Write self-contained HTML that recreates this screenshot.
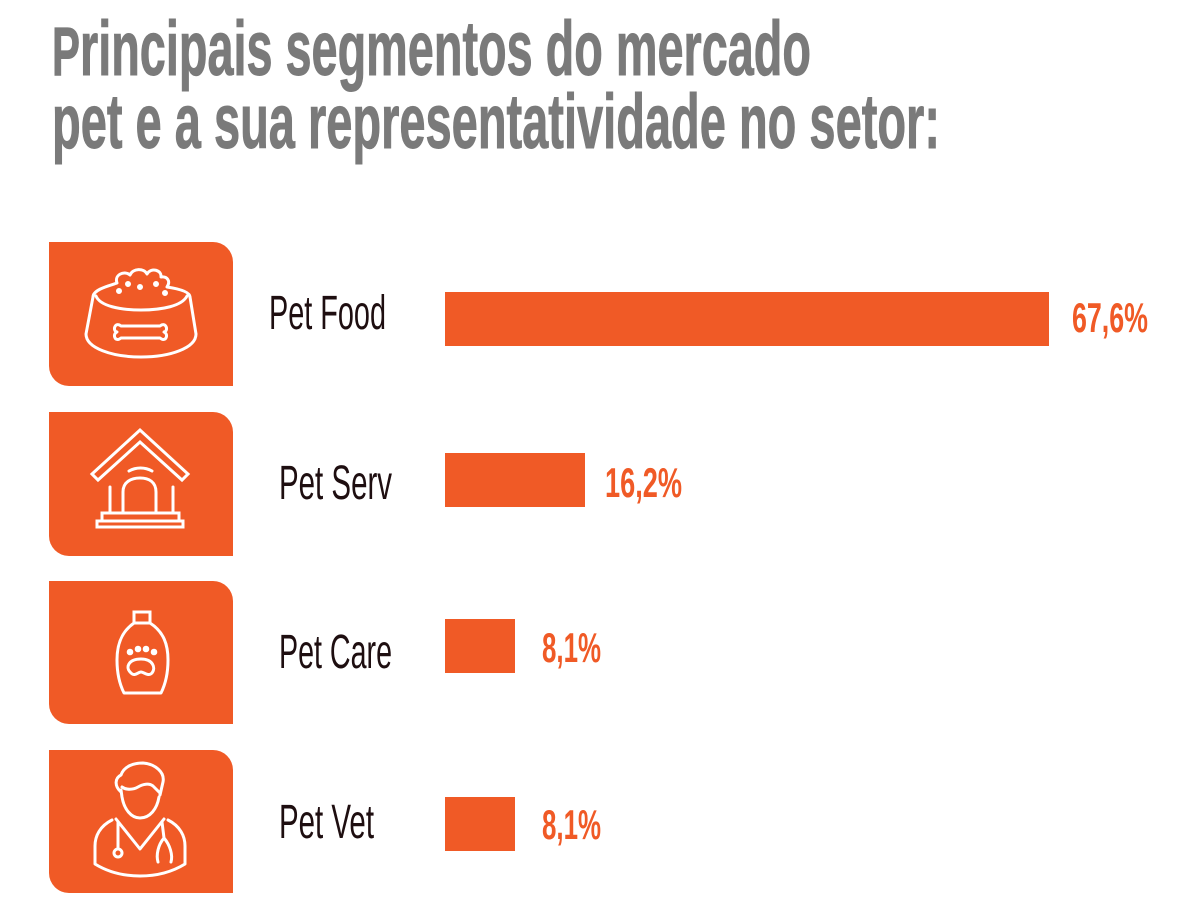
<!DOCTYPE html>
<html>
<head>
<meta charset="utf-8">
<style>
  html, body { margin: 0; padding: 0; background: #ffffff; }
  svg { display: block; }
</style>
</head>
<body>
<svg width="1200" height="920" viewBox="0 0 1200 920" xmlns="http://www.w3.org/2000/svg">
  <rect width="1200" height="920" fill="#ffffff"/>

  <!-- Title -->
  <g font-family="Liberation Sans, sans-serif" font-weight="bold" fill="#7a7a7a" stroke="#7a7a7a" stroke-width="1" font-size="77">
    <text x="52" y="75" textLength="759" lengthAdjust="spacingAndGlyphs"><tspan font-size="69">P</tspan>rincipais segmentos do mercado</text>
    <text x="52" y="148" textLength="888" lengthAdjust="spacingAndGlyphs">pet e a sua representatividade no setor:</text>
  </g>

  <!-- Icon boxes -->
  <g fill="#f05a26">
    <path d="M49,242 H213 A20,20 0 0 1 233,262 V386 H69 A20,20 0 0 1 49,366 Z"/>
    <path d="M49,412 H213 A20,20 0 0 1 233,432 V556 H69 A20,20 0 0 1 49,536 Z"/>
    <path d="M49,581 H213 A20,20 0 0 1 233,601 V724 H69 A20,20 0 0 1 49,704 Z"/>
    <path d="M49,750 H213 A20,20 0 0 1 233,770 V893 H69 A20,20 0 0 1 49,873 Z"/>
  </g>

  <!-- Icons -->
  <g fill="none" stroke="#ffffff" stroke-width="3" stroke-linecap="round" stroke-linejoin="round">
    <!-- Bowl -->
    <path d="M93,297 C93,289 112,285 117,283 C114,275 124,270 130,275 C133,268 144,268 147,274 C151,267 162,270 161,277 C167,276 171,281 167,287 C180,289 190,292 190,297"/>
    <path d="M96,296 C100,306 120,310 141,310 C162,310 182,306 187,296"/>
    <path d="M93,297 L86,334 C86,348 112,357 141,357 C170,357 196,348 196,334 L190,297"/>
    <path d="M121,326 C115,321 112,331 117,332 C112,334 115,343 121,338 L160,338 C166,343 169,334 164,332 C169,331 166,321 160,326 Z"/>
    <circle cx="119" cy="291" r="1.5" fill="#fff"/>
    <circle cx="128" cy="284" r="1.5" fill="#fff"/>
    <circle cx="140" cy="287" r="1.5" fill="#fff"/>
    <circle cx="156" cy="284" r="1.5" fill="#fff"/>
    <circle cx="165" cy="293" r="1.5" fill="#fff"/>

    <!-- House -->
    <path d="M92,474 L140,430 L188,474 L182,480 L140,442 L98,480 Z" stroke-linecap="butt" stroke-linejoin="miter"/>
    <path d="M110,487 V513 M173,487 V513"/>
    <path d="M123,513 V492 C123,482 131,478 140,478 C149,478 156,482 156,492 V513"/>
    <path d="M129,471 C136,467 145,467 152,471"/>
    <rect x="102" y="513" width="77" height="8" stroke-linejoin="miter"/>
    <rect x="97" y="521" width="86" height="6" stroke-linejoin="miter"/>

    <!-- Bottle -->
    <rect x="134" y="612" width="16" height="11" stroke-linejoin="miter"/>
    <path d="M134,623 C121,632 117,645 117,660 C117,675 120,685 124,693 L161,693 C165,685 168,675 168,660 C168,645 164,632 150,623 Z"/>
    <path d="M131,673 C125,668 128,659 141,659 C153,659 156,668 152,673 C148,677 144,672 141,672 C138,672 135,677 131,673 Z"/>
    <circle cx="130" cy="652" r="1.8" fill="#fff"/>
    <circle cx="138" cy="649" r="1.8" fill="#fff"/>
    <circle cx="146" cy="649" r="1.8" fill="#fff"/>
    <circle cx="154" cy="652" r="1.8" fill="#fff"/>

    <!-- Vet -->
    <path d="M121,792 C114,786 115,778 121,775 C124,766 134,763 143,763 C155,764 165,772 163,782 L160,795"/>
    <path d="M122,787 C126,790 133,790 138,787 C143,784 149,783 153,786 L160,793"/>
    <path d="M121,790 L122,797 C124,809 131,818 140,818 C150,818 157,809 159,797"/>
    <path d="M112,820 C100,826 95,836 95,846 V864 C108,872 124,876 140,876 C156,876 172,872 185,864 V846 C185,836 180,826 168,820"/>
    <path d="M116,819 L140,849 L164,819"/>
    <path d="M118,822 V849"/>
    <circle cx="118" cy="853" r="4"/>
    <path d="M162,822 L164,838 C158,845 156,855 158,862 M164,838 C170,845 173,855 171,862"/>
  </g>

  <!-- Labels -->
  <g font-family="Liberation Sans, sans-serif" fill="#1e0e10" font-size="48">
    <text x="269" y="329" textLength="117" lengthAdjust="spacingAndGlyphs">Pet Food</text>
    <text x="279" y="499" textLength="113" lengthAdjust="spacingAndGlyphs">Pet Serv</text>
    <text x="279" y="668" textLength="113" lengthAdjust="spacingAndGlyphs">Pet Care</text>
    <text x="279" y="838" textLength="95" lengthAdjust="spacingAndGlyphs">Pet Vet</text>
  </g>

  <!-- Bars -->
  <g fill="#f05a26">
    <rect x="445" y="292" width="604" height="54"/>
    <rect x="445" y="453" width="140" height="54"/>
    <rect x="445" y="619" width="70" height="54"/>
    <rect x="445" y="797" width="70" height="54"/>
  </g>

  <!-- Values -->
  <g font-family="Liberation Sans, sans-serif" font-weight="bold" fill="#f05a26" font-size="42">
    <text x="1072" y="332" textLength="76" lengthAdjust="spacingAndGlyphs">67,6%</text>
    <text x="605" y="497" textLength="77" lengthAdjust="spacingAndGlyphs">16,2%</text>
    <text x="542" y="662" textLength="59" lengthAdjust="spacingAndGlyphs">8,1%</text>
    <text x="542" y="839" textLength="59" lengthAdjust="spacingAndGlyphs">8,1%</text>
  </g>
</svg>
</body>
</html>
